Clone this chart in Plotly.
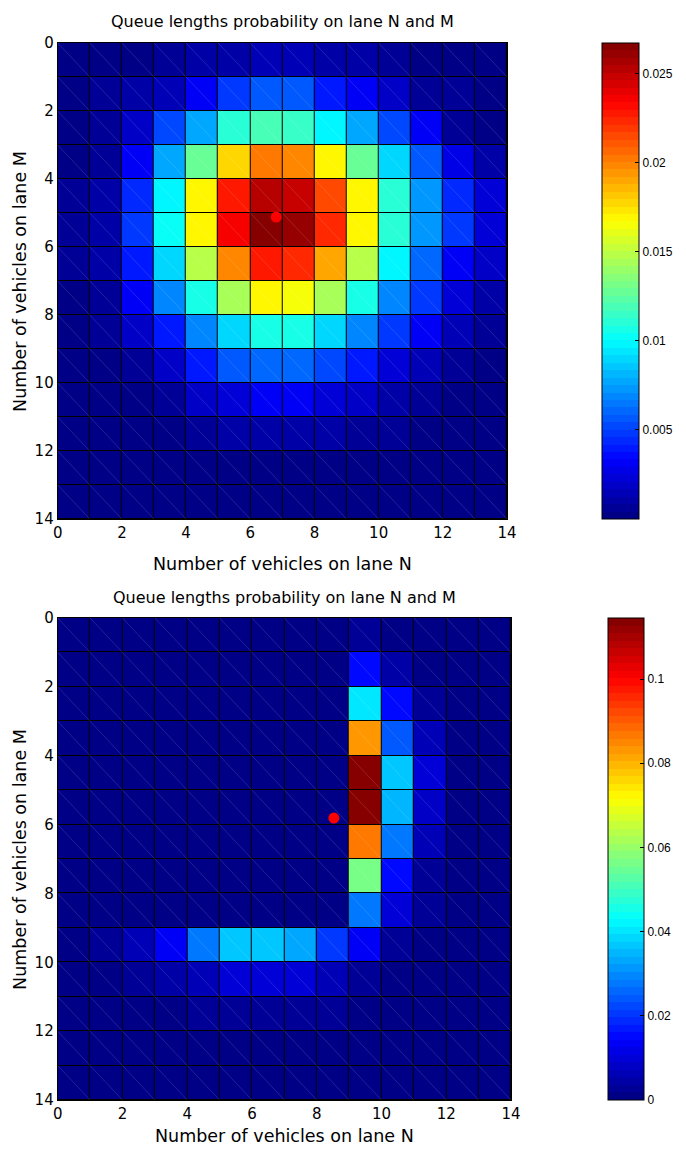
import numpy as np
import plotly.graph_objects as go

# ---------------- data ----------------
n_vals = list(range(15))  # cell edges for lane N (x)
m_vals = list(range(15))  # cell edges for lane M (y)

prob_top = [
    [0.0002, 0.0003, 0.0004, 0.0006, 0.0009, 0.0012, 0.0014, 0.0014, 0.0012, 0.0009, 0.0006, 0.0004, 0.0003, 0.0002],
    [0.0004, 0.0006, 0.0009, 0.0016, 0.0033, 0.0050, 0.0055, 0.0055, 0.0040, 0.0030, 0.0017, 0.0008, 0.0005, 0.0003],
    [0.0004, 0.0008, 0.0020, 0.0053, 0.0078, 0.0112, 0.0120, 0.0113, 0.0100, 0.0078, 0.0053, 0.0033, 0.0007, 0.0004],
    [0.0004, 0.0008, 0.0033, 0.0078, 0.0128, 0.0176, 0.0203, 0.0200, 0.0167, 0.0128, 0.0088, 0.0057, 0.0027, 0.0012],
    [0.0005, 0.0012, 0.0043, 0.0100, 0.0167, 0.0229, 0.0254, 0.0250, 0.0216, 0.0167, 0.0112, 0.0075, 0.0043, 0.0023],
    [0.0005, 0.0012, 0.0047, 0.0102, 0.0167, 0.0234, 0.0267, 0.0260, 0.0224, 0.0167, 0.0112, 0.0075, 0.0047, 0.0023],
    [0.0005, 0.0010, 0.0040, 0.0088, 0.0147, 0.0200, 0.0229, 0.0224, 0.0190, 0.0147, 0.0100, 0.0060, 0.0033, 0.0017],
    [0.0004, 0.0008, 0.0030, 0.0067, 0.0107, 0.0145, 0.0167, 0.0163, 0.0143, 0.0107, 0.0070, 0.0050, 0.0023, 0.0010],
    [0.0003, 0.0006, 0.0017, 0.0040, 0.0070, 0.0088, 0.0107, 0.0107, 0.0088, 0.0067, 0.0050, 0.0030, 0.0013, 0.0006],
    [0.0002, 0.0004, 0.0008, 0.0020, 0.0040, 0.0057, 0.0060, 0.0060, 0.0053, 0.0040, 0.0023, 0.0015, 0.0007, 0.0004],
    [0.0001, 0.0002, 0.0004, 0.0008, 0.0018, 0.0025, 0.0030, 0.0030, 0.0025, 0.0018, 0.0010, 0.0006, 0.0003, 0.0002],
    [0.0001, 0.0001, 0.0002, 0.0004, 0.0008, 0.0010, 0.0012, 0.0012, 0.0010, 0.0008, 0.0005, 0.0003, 0.0002, 0.0001],
    [0.0000, 0.0001, 0.0001, 0.0002, 0.0003, 0.0004, 0.0004, 0.0004, 0.0004, 0.0003, 0.0002, 0.0001, 0.0001, 0.0000],
    [0.0000, 0.0000, 0.0001, 0.0001, 0.0001, 0.0001, 0.0002, 0.0002, 0.0001, 0.0001, 0.0001, 0.0001, 0.0000, 0.0000],
]

prob_bottom = [
    [0.0003, 0.0003, 0.0003, 0.0003, 0.0003, 0.0003, 0.0003, 0.0003, 0.0003, 0.0020, 0.0005, 0.0003, 0.0003, 0.0003],
    [0.0004, 0.0004, 0.0004, 0.0004, 0.0004, 0.0004, 0.0004, 0.0004, 0.0005, 0.0160, 0.0045, 0.0008, 0.0004, 0.0003],
    [0.0004, 0.0004, 0.0004, 0.0004, 0.0004, 0.0004, 0.0004, 0.0004, 0.0005, 0.0400, 0.0150, 0.0030, 0.0005, 0.0003],
    [0.0004, 0.0004, 0.0004, 0.0004, 0.0004, 0.0004, 0.0004, 0.0004, 0.0005, 0.0830, 0.0250, 0.0070, 0.0008, 0.0003],
    [0.0004, 0.0004, 0.0004, 0.0004, 0.0004, 0.0004, 0.0004, 0.0004, 0.0005, 0.1145, 0.0360, 0.0090, 0.0010, 0.0004],
    [0.0004, 0.0004, 0.0004, 0.0004, 0.0004, 0.0004, 0.0004, 0.0004, 0.0005, 0.1140, 0.0350, 0.0080, 0.0010, 0.0004],
    [0.0004, 0.0004, 0.0004, 0.0004, 0.0004, 0.0004, 0.0004, 0.0004, 0.0005, 0.0870, 0.0286, 0.0060, 0.0008, 0.0004],
    [0.0004, 0.0004, 0.0004, 0.0004, 0.0004, 0.0004, 0.0004, 0.0004, 0.0005, 0.0560, 0.0160, 0.0030, 0.0006, 0.0003],
    [0.0004, 0.0004, 0.0004, 0.0004, 0.0004, 0.0004, 0.0004, 0.0004, 0.0005, 0.0270, 0.0090, 0.0020, 0.0005, 0.0003],
    [0.0010, 0.0020, 0.0060, 0.0143, 0.0286, 0.0360, 0.0360, 0.0330, 0.0210, 0.0130, 0.0020, 0.0010, 0.0004, 0.0003],
    [0.0005, 0.0010, 0.0030, 0.0050, 0.0070, 0.0100, 0.0100, 0.0090, 0.0060, 0.0030, 0.0010, 0.0005, 0.0003, 0.0002],
    [0.0003, 0.0005, 0.0010, 0.0015, 0.0020, 0.0030, 0.0030, 0.0025, 0.0020, 0.0010, 0.0005, 0.0003, 0.0002, 0.0001],
    [0.0002, 0.0003, 0.0004, 0.0005, 0.0006, 0.0008, 0.0008, 0.0007, 0.0006, 0.0004, 0.0003, 0.0002, 0.0001, 0.0001],
    [0.0000, 0.0001, 0.0001, 0.0002, 0.0002, 0.0003, 0.0003, 0.0003, 0.0002, 0.0002, 0.0001, 0.0001, 0.0001, 0.0000],
]

mean_top = (6.81, 5.12)
mean_bottom = (8.53, 5.81)

cbar_ticks_top = [0.005, 0.01, 0.015, 0.02, 0.025]
cbar_ticks_bottom = [0, 0.02, 0.04, 0.06, 0.08, 0.1]
axis_ticks = [0, 2, 4, 6, 8, 10, 12, 14]

title_text = "Queue lengths probability on lane N and M"
xlabel = "Number of vehicles on lane N"
ylabel = "Number of vehicles on lane M"

# ---------------- jet colormap (64 levels, stepped) ----------------
def jet(f):
    r = np.clip(1.5 - abs(4 * f - 3), 0, 1)
    g = np.clip(1.5 - abs(4 * f - 2), 0, 1)
    b = np.clip(1.5 - abs(4 * f - 1), 0, 1)
    return "rgb(%d,%d,%d)" % (round(r * 255), round(g * 255), round(b * 255))

N_LEV = 64
jet_scale = []
for i in range(N_LEV):
    c = jet((i + 0.5) / N_LEV)
    jet_scale.append([i / N_LEV, c])
    jet_scale.append([(i + 1) / N_LEV, c])

# page is 686x1156; the browser's default 8px body margin offsets the figure
OFF = 8
W, H = 686 - 2 * OFF, 1156 - 2 * OFF
FONT = "DejaVu Sans, Arial, sans-serif"
CB_FONT = "Liberation Sans, Arial, sans-serif"

def px(x):  # page x -> paper fraction
    return (x - OFF) / W

def py(y):  # page y -> paper fraction
    return 1 - (y - OFF) / H

# pixel boxes (page coordinates) of the two plot areas
panels = [
    dict(z=prob_top, mean=mean_top, ticks=cbar_ticks_top,
         x0=58, x1=510, y0=43, y1=519, cb_x=606, cb_w=37, title_y=21, xlab_y=564, xlab_anchor="middle"),
    dict(z=prob_bottom, mean=mean_bottom, ticks=cbar_ticks_bottom,
         x0=58, x1=514, y0=618, y1=1100, cb_x=612, cb_w=36, title_y=597, xlab_y=1148, xlab_anchor="bottom"),
]

fig = go.Figure()
shapes = []
annotations = []
for k, p in enumerate(panels):
    xa = "x" if k == 0 else "x2"
    ya = "y" if k == 0 else "y2"
    z = np.array(p["z"])
    fig.add_trace(go.Heatmap(
        z=z, x=n_vals, y=m_vals, xaxis=xa, yaxis=ya,
        colorscale=jet_scale, zmin=float(z.min()), zmax=float(z.max()),
        xgap=1, ygap=1, hoverinfo="skip",
        colorbar=dict(
            x=px(p["cb_x"]), xanchor="left", xref="paper", xpad=0, ypad=0,
            y=(py(p["y0"]) + py(p["y1"])) / 2, yanchor="middle",
            len=(p["y1"] - p["y0"]) / H, lenmode="fraction",
            thickness=p["cb_w"], thicknessmode="pixels",
            outlinecolor="black", outlinewidth=1,
            tickvals=p["ticks"], ticktext=[("%g" % t) for t in p["ticks"]],
            ticks="inside", ticklen=4, tickcolor="black",
            tickfont=dict(family=CB_FONT, size=12, color="black"),
        ),
    ))
    # faint diagonal rendering lines in each cell
    for i in range(14):
        for j in range(14):
            shapes.append(dict(type="line", xref=xa, yref=ya,
                               x0=n_vals[j], y0=m_vals[i], x1=n_vals[j + 1], y1=m_vals[i + 1],
                               line=dict(color="rgba(255,255,255,0.22)", width=0.6), layer="above"))
    fig.add_trace(go.Scatter(
        x=[p["mean"][0]], y=[p["mean"][1]], xaxis=xa, yaxis=ya, mode="markers",
        marker=dict(color="red", size=11, line=dict(width=0)), hoverinfo="skip", showlegend=False,
    ))
    cx = (px(p["x0"]) + px(p["x1"])) / 2
    annotations.append(dict(text=title_text, x=cx, y=py(p["title_y"]), xref="paper", yref="paper",
                            showarrow=False, xanchor="center", yanchor="middle",
                            font=dict(family=FONT, size=16, color="black")))
    annotations.append(dict(text=xlabel, x=cx, y=py(p["xlab_y"]), xref="paper", yref="paper",
                            showarrow=False, xanchor="center", yanchor=p["xlab_anchor"],
                            font=dict(family=FONT, size=17.5, color="black")))
    annotations.append(dict(text=ylabel, x=px(20), y=(py(p["y0"]) + py(p["y1"])) / 2, xref="paper",
                            yref="paper", showarrow=False, textangle=-90, xanchor="center", yanchor="middle",
                            font=dict(family=FONT, size=17.5, color="black")))

def xaxis_cfg(p):
    return dict(domain=[px(p["x0"]), px(p["x1"])], range=[0, 14], tickvals=axis_ticks,
                showgrid=False, zeroline=False, showline=True, linecolor="black", linewidth=1, mirror=True,
                ticks="", automargin=False, tickfont=dict(family=FONT, size=15, color="black"))

def yaxis_cfg(p):
    return dict(domain=[py(p["y1"]), py(p["y0"])], range=[14, 0], tickvals=axis_ticks,
                showgrid=False, zeroline=False, showline=True, linecolor="black", linewidth=1, mirror=True,
                ticks="", automargin=False, tickfont=dict(family=FONT, size=15, color="black"))

fig.update_layout(
    width=W, height=H, margin=dict(l=0, r=0, t=0, b=0), autosize=False,
    paper_bgcolor="white", plot_bgcolor="black", showlegend=False,
    xaxis=dict(xaxis_cfg(panels[0]), anchor="y"),
    yaxis=dict(yaxis_cfg(panels[0]), anchor="x"),
    xaxis2=dict(xaxis_cfg(panels[1]), anchor="y2"),
    yaxis2=dict(yaxis_cfg(panels[1]), anchor="x2"),
    shapes=shapes, annotations=annotations,
)

fig.write_html("out.html", config={"displayModeBar": False})
